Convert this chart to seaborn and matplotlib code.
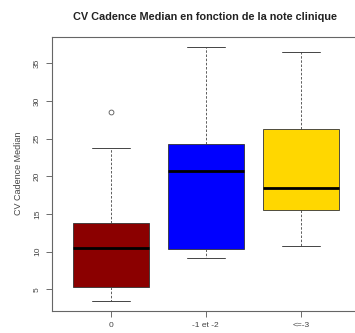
import matplotlib
matplotlib.use("Agg")
import matplotlib.pyplot as plt
import seaborn as sns
import pandas as pd

# Data (points reproducing the box statistics)
cat_0 = [3.5, 4.5, 5.3, 8.0, 10.5, 12.0, 13.8, 23.7, 28.6]
cat_12 = [9.2, 10.3, 20.7, 24.3, 37.2]
cat_3 = [10.7, 15.5, 18.5, 26.3, 36.5]
categories = ["0", "-1 et -2", "<=-3"]
colors = ["#8B0000", "#0000FF", "#FFD700"]
yticks = [5, 10, 15, 20, 25, 30, 35]

rows = []
for c, vals in zip(categories, [cat_0, cat_12, cat_3]):
    for v in vals:
        rows.append({"note": c, "val": v})
df = pd.DataFrame(rows)

sns.set_style("white")
plt.rcParams["font.family"] = ["Liberation Sans", "DejaVu Sans"]

fig = plt.figure(figsize=(3.55, 3.33), dpi=100)
ax = fig.add_axes([52 / 355, 22.3 / 333, (362 - 52) / 355, (311 - 37) / 333])

sns.boxplot(data=df, x="note", y="val", hue="note", order=categories,
            hue_order=categories, palette=colors, legend=False, ax=ax,
            width=0.8, saturation=1, linecolor="#333333", linewidth=0.6,
            whiskerprops=dict(linestyle=(0, (3, 2)), color="#444444", linewidth=0.6),
            capprops=dict(color="#444444", linewidth=0.7),
            medianprops=dict(color="black", linewidth=2),
            flierprops=dict(marker="o", markerfacecolor="none",
                            markeredgecolor="#555555", markersize=3.5, markeredgewidth=0.6))

ax.set_xlim(-0.618, 2.645)
ax.set_ylim(2.15, 38.55)
ax.set_yticks(yticks)
ax.set_yticklabels([str(t) for t in yticks], rotation=90, va="center", fontsize=6, color="#444444")
ax.set_xticks(range(3))
ax.set_xticklabels(categories, fontsize=6, color="#444444")
ax.tick_params(axis="both", length=4, width=0.6, color="#555555", pad=4, direction="out", bottom=True, left=True)
ax.set_xlabel("")
ax.set_ylabel("CV Cadence Median", fontsize=6.5, color="#444444", labelpad=8)
for s in ax.spines.values():
    s.set_color("#666666")
    s.set_linewidth(0.8)
fig.text(205 / 355, 1 - 17 / 333, "CV Cadence Median en fonction de la note clinique",
         ha="center", va="center", fontsize=7.8, fontweight="bold", color="#222222")

fig.savefig("out.png", dpi=100)
